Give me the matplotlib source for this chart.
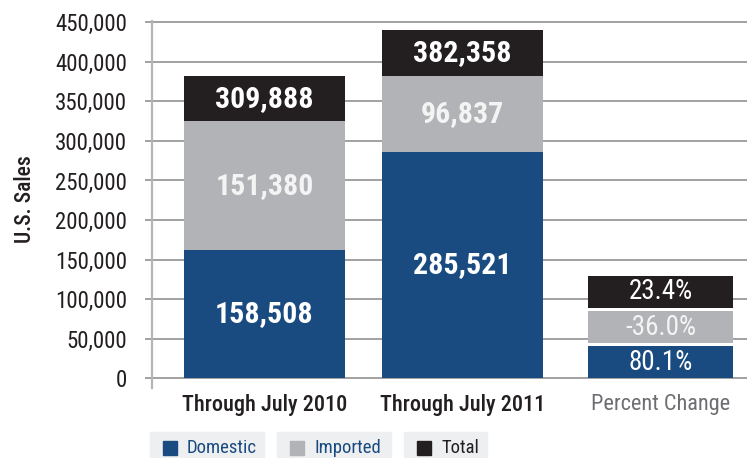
"""U.S. sales through July, domestic vs imported."""
import matplotlib.pyplot as plt
import numpy as np
from matplotlib.patches import Rectangle

plt.rcParams["font.family"] = ["Roboto Condensed", "DejaVu Sans"]

categories = ["Through July 2010", "Through July 2011", "Percent Change"]
series = ["Domestic", "Imported", "Total"]

# printed figures
domestic = [158508, 285521]
imported = [151380, 96837]
total = [309888, 382358]
pct_change = [80.1, -36.0, 23.4]  # domestic, imported, total

# segment heights as drawn on the y axis
domestic_drawn = [162000, 285500, 41000]
imported_drawn = [163000, 97000, 41000]
total_drawn = [56500, 57000, 41000]

BLUE = "#1a4b80"
GRAY = "#b2b3b6"
BLACK = "#231f20"
DARK = "#231f20"

W, H = 754, 458


def fx(px):
    return px / W


def fy(py):
    return 1 - py / H


fig = plt.figure(figsize=(W / 100, H / 100), dpi=100)
ax = fig.add_axes([fx(152), fy(388.4), (747 - 152) / W, (388.4 - 20.5) / H])

x = np.arange(len(categories))
widths = [0.815, 0.815, 0.73]
gaps = np.array([0, 0, 3500])

labels = {
    "Domestic": [f"{v:,}" for v in domestic] + [f"{pct_change[0]:.1f}%"],
    "Imported": [f"{v:,}" for v in imported] + [f"{pct_change[1]:.1f}%"],
    "Total": [f"{v:,}" for v in total] + [f"{pct_change[2]:.1f}%"],
}
drawn = {"Domestic": domestic_drawn, "Imported": imported_drawn, "Total": total_drawn}
colors = {"Domestic": BLUE, "Imported": GRAY, "Total": BLACK}
text_colors = {"Domestic": "white", "Imported": "#f4f4f4", "Total": "white"}

bottom = np.zeros(len(categories))
for name in series:
    h = np.array(drawn[name], dtype=float)
    ax.bar(x, h, width=widths, bottom=bottom, color=colors[name], linewidth=0, zorder=3)
    for i in range(len(categories)):
        is_pct = i == 2
        ax.text(x[i], bottom[i] + h[i] / 2, labels[name][i],
                ha="center", va="center", color=text_colors[name],
                fontsize=19.5 if is_pct else 21.5,
                fontweight="normal" if is_pct else "bold", zorder=4)
    bottom += h + gaps

# axes styling
ax.set_xlim(-0.568, 2.437)
ax.set_ylim(-12500, 452000)
ax.set_yticks(range(0, 450001, 50000))
ax.set_yticklabels([f"{v:,}" for v in range(0, 450001, 50000)])
ax.yaxis.grid(True, color="#9a9a9a", linewidth=1.3)
ax.set_axisbelow(True)
for s in ["top", "right", "bottom"]:
    ax.spines[s].set_visible(False)
ax.spines["left"].set_color("#b5b5b5")
ax.spines["left"].set_linewidth(1.6)
ax.tick_params(axis="y", length=5, width=1.3, color="#9a9a9a", pad=13,
               labelsize=16.5, labelcolor=DARK)
ax.set_xticks(x)
ax.set_xticklabels(categories)
ax.tick_params(axis="x", length=0, pad=4, labelsize=16)
for lbl, c in zip(ax.get_xticklabels(), [DARK, DARK, "#6d6e71"]):
    lbl.set_color(c)
    lbl.set_fontweight("medium" if c == DARK else "normal")

fig.text(fx(25), fy(199), "U.S. Sales", rotation=90, ha="center", va="center",
         fontsize=15.5, fontweight="medium", color=DARK)

# legend boxes along the bottom
legend_boxes = [(150, 264), (277, 391), (404, 487)]
legend_text_colors = [BLUE, BLUE, DARK]
for name, (x0, x1), tc in zip(series, legend_boxes, legend_text_colors):
    fig.patches.append(Rectangle((fx(x0), 0), fx(x1 - x0), fy(432), color="#eeeff0",
                                 transform=fig.transFigure, figure=fig, zorder=0))
    fig.patches.append(Rectangle((fx(x0 + 13), fy(455)), fx(14), 14 / H, color=colors[name],
                                 transform=fig.transFigure, figure=fig, zorder=1))
    fig.text(fx(x0 + 37), fy(448), name, ha="left", va="center", fontsize=13.5, color=tc)

fig.savefig("out.png", dpi=100)
